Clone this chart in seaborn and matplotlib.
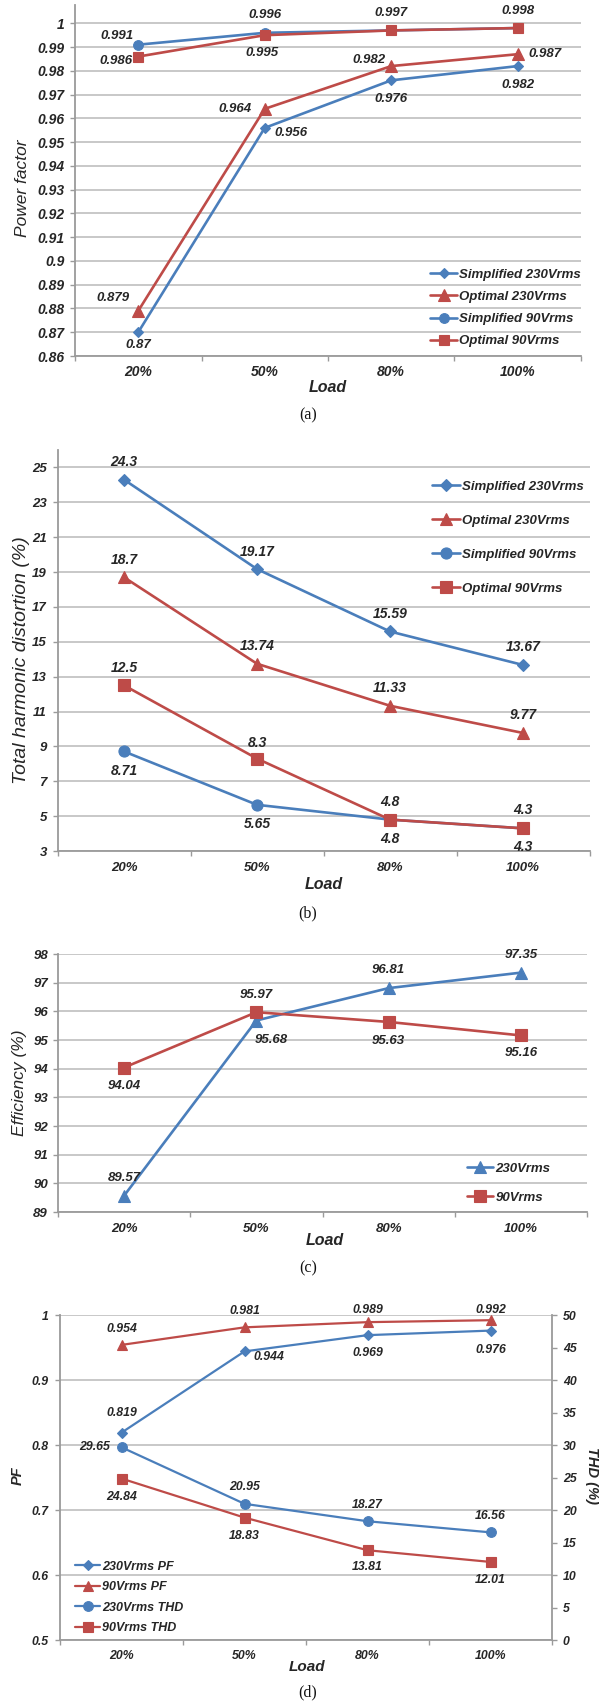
import numpy as np
import matplotlib
matplotlib.use("Agg")
import matplotlib.pyplot as plt
import seaborn as sns

# ---------------------------------------------------------------- data
loads = ["20%", "50%", "80%", "100%"]

# (a) power factor of the two controllers
pf_simplified_230 = [0.87, 0.956, 0.976, 0.982]
pf_optimal_230 = [0.879, 0.964, 0.982, 0.987]
pf_simplified_90 = [0.991, 0.996, 0.997, 0.998]
pf_optimal_90 = [0.986, 0.995, 0.997, 0.998]

# (b) total harmonic distortion (%)
thd_simplified_230 = [24.3, 19.17, 15.59, 13.67]
thd_optimal_230 = [18.7, 13.74, 11.33, 9.77]
thd_simplified_90 = [8.71, 5.65, 4.8, 4.3]
thd_optimal_90 = [12.5, 8.3, 4.8, 4.3]

# (c) efficiency (%)
eff_230 = [89.57, 95.68, 96.81, 97.35]
eff_90 = [94.04, 95.97, 95.63, 95.16]

# (d) PF (left axis) and THD (right axis)
pf_230 = [0.819, 0.944, 0.969, 0.976]
pf_90 = [0.954, 0.981, 0.989, 0.992]
thd_230 = [29.65, 20.95, 18.27, 16.56]
thd_90 = [24.84, 18.83, 13.81, 12.01]

a_yticks = [0.86, 0.87, 0.88, 0.89, 0.9, 0.91, 0.92, 0.93, 0.94, 0.95,
            0.96, 0.97, 0.98, 0.99, 1.0]
b_yticks = [3, 5, 7, 9, 11, 13, 15, 17, 19, 21, 23, 25]
c_yticks = [89, 90, 91, 92, 93, 94, 95, 96, 97, 98]
d_yticks = [0.5, 0.6, 0.7, 0.8, 0.9, 1.0]
d_thd_ticks = [0, 5, 10, 15, 20, 25, 30, 35, 40, 45, 50]

# ---------------------------------------------------------------- style
sns.set_theme(style="white")
plt.rcParams["font.family"] = ["Liberation Sans", "DejaVu Sans"]
plt.rcParams["font.style"] = "italic"
plt.rcParams["font.weight"] = "bold"

BLUE = "#4a7ebb"
RED = "#be4b48"
GRID = "#c4c4c4"
SPINE = "#9a9a9a"
TXT = "#262626"

W, H = 599, 1701
fig = plt.figure(figsize=(W / 100, H / 100), dpi=100)
fig.patch.set_facecolor("white")
x = np.arange(len(loads))


def fx(px):
    return px / W


def fy(py):
    return 1 - py / H


def make_axes(left, right, top, bottom):
    return fig.add_axes([fx(left), fy(bottom), (right - left) / W, (bottom - top) / H])


def style_axes(ax, yticks, ylim, tick_size, ypad, xpad):
    ax.set_xlim(-0.5, len(loads) - 0.5)
    ax.set_ylim(*ylim)
    ax.set_yticks(yticks)
    ax.set_yticklabels([f"{t:g}" for t in yticks])
    ax.set_xticks(x)
    ax.set_xticklabels(loads)
    ax.set_xticks(np.arange(len(loads) + 1) - 0.5, minor=True)
    ax.tick_params(axis="x", which="major", length=0, pad=xpad,
                   labelsize=tick_size, labelcolor=TXT)
    ax.tick_params(axis="x", which="minor", length=3.6, width=1.0,
                   color=SPINE, direction="out", bottom=True)
    ax.tick_params(axis="y", which="major", length=3.6, width=1.0,
                   color=SPINE, direction="out", left=True, pad=ypad,
                   labelsize=tick_size, labelcolor=TXT)
    ax.yaxis.grid(True, color=GRID, linewidth=1.3)
    ax.xaxis.grid(False)
    ax.set_axisbelow(True)
    for side in ("top", "right"):
        ax.spines[side].set_visible(False)
    for side in ("left", "bottom"):
        ax.spines[side].set_color(SPINE)
        ax.spines[side].set_linewidth(1.3)
    ax.set_facecolor("white")
    ax.set_xlabel("")
    ax.set_ylabel("")


def draw_series(ax, values, color, marker, ms, lw, label, offsets, fs):
    sns.lineplot(x=x, y=values, ax=ax, color=color, marker=marker,
                 markersize=ms, markeredgecolor=color, markeredgewidth=0.8,
                 linewidth=lw, label=label, legend=False, zorder=3)
    for xi, v, off in zip(x, values, offsets):
        if off is None:  # value label shared with the series drawn on top
            continue
        ax.annotate(f"{v:g}", (xi, v), xytext=off,
                    textcoords="offset pixels", ha="center", va="center",
                    fontsize=fs, color=TXT, fontstyle="italic",
                    fontweight="bold", zorder=4)


def place_legend(ax, handles, labels, left_px, center_px, fs, handlelength, spacing):
    leg = ax.legend(handles, labels, loc="center left",
                    bbox_to_anchor=(fx(left_px), fy(center_px)),
                    bbox_transform=fig.transFigure, frameon=False,
                    borderpad=0, borderaxespad=0, handlelength=handlelength,
                    handletextpad=0.15, labelspacing=spacing,
                    prop=dict(size=fs, style="italic", weight="bold"))
    for t in leg.get_texts():
        t.set_color(TXT)
    return leg


def axis_text(px, py, s, size, rotation=0, weight="bold", style="italic"):
    fig.text(fx(px), fy(py), s, ha="center", va="center", rotation=rotation,
             fontsize=size, fontweight=weight, fontstyle=style, color=TXT)


def caption(py, s):
    fig.text(fx(308), fy(py), s, ha="center", va="center", fontsize=11.5,
             family=["Liberation Serif", "DejaVu Serif"], fontstyle="normal",
             fontweight="normal", color="#111111")


# ---------------------------------------------------------------- (a)
ax_a = make_axes(75, 581, 5, 356)
draw_series(ax_a, pf_simplified_230, BLUE, "D", 5.5, 1.9, "Simplified 230Vrms",
            [(0, -13), (26, -5), (0, -19), (0, -19)], 9.5)
draw_series(ax_a, pf_optimal_230, RED, "^", 8.0, 1.9, "Optimal 230Vrms",
            [(-25, 13), (-30, 0), (-22, 6), (27, 0)], 9.5)
draw_series(ax_a, pf_simplified_90, BLUE, "o", 7.0, 1.9, "Simplified 90Vrms",
            [(-21, 9), (0, 18), None, None], 9.5)
draw_series(ax_a, pf_optimal_90, RED, "s", 7.5, 1.9, "Optimal 90Vrms",
            [(-22, -4), (-3, -18), (0, 17), (0, 17)], 9.5)
style_axes(ax_a, a_yticks, (0.86, 1.0077), 10, 3.6, 6.5)
h, l = ax_a.get_legend_handles_labels()
place_legend(ax_a, h, l, 430, 308, 9.5, 2.05, 0.75)
axis_text(23, 188, "Power factor", 12.5, rotation=90, weight="normal")
axis_text(328, 387, "Load", 11.5)
caption(415, "(a)")

# ---------------------------------------------------------------- (b)
ax_b = make_axes(57.5, 589.5, 450, 851)
draw_series(ax_b, thd_simplified_230, BLUE, "D", 6.0, 1.9, "Simplified 230Vrms",
            [(0, 18), (0, 17), (0, 17), (0, 18)], 10)
draw_series(ax_b, thd_optimal_230, RED, "^", 8.5, 1.9, "Optimal 230Vrms",
            [(0, 17), (0, 18), (0, 18), (0, 18)], 10)
draw_series(ax_b, thd_simplified_90, BLUE, "o", 8.0, 1.9, "Simplified 90Vrms",
            [(0, -20), (0, -19), (0, -19), (0, -19)], 10)
draw_series(ax_b, thd_optimal_90, RED, "s", 8.0, 1.9, "Optimal 90Vrms",
            [(0, 17), (0, 16), (0, 18), (0, 18)], 10)
style_axes(ax_b, b_yticks, (3, 26.0), 9.5, 4.0, 8.0)
h, l = ax_b.get_legend_handles_labels()
place_legend(ax_b, h, l, 432, 537.5, 9.5, 2.1, 1.65)
axis_text(22, 660, "Total harmonic distortion (%)", 14, rotation=90, weight="normal")
axis_text(324, 884, "Load", 11.5)
caption(913, "(b)")

# ---------------------------------------------------------------- (c)
ax_c = make_axes(58, 587, 954, 1212)
draw_series(ax_c, eff_230, BLUE, "^", 8.5, 1.9, "230Vrms",
            [(0, 18), (15, -19), (0, 18), (0, 18)], 9.5)
draw_series(ax_c, eff_90, RED, "s", 8.0, 1.9, "90Vrms",
            [(0, -18), (0, 17), (0, -19), (0, -18)], 9.5)
style_axes(ax_c, c_yticks, (89, 98), 9.5, 3.6, 8.0)
h, l = ax_c.get_legend_handles_labels()
place_legend(ax_c, h, l, 467, 1183, 9.5, 2.0, 1.27)
axis_text(20, 1083, "Efficiency (%)", 12.5, rotation=90, weight="normal")
axis_text(325, 1240, "Load", 11.5)
caption(1268, "(c)")

# ---------------------------------------------------------------- (d)
ax_d = make_axes(60, 552, 1315, 1640)
draw_series(ax_d, pf_230, BLUE, "D", 5.5, 1.6, "230Vrms PF",
            [(0, 20), (24, -6), (0, -18), (0, -19)], 8.8)
draw_series(ax_d, pf_90, RED, "^", 7.5, 1.6, "90Vrms PF",
            [(0, 16), (0, 16), (0, 12), (0, 10)], 8.8)
style_axes(ax_d, d_yticks, (0.5, 1.0), 8.8, 4.3, 7.5)
ax_d.yaxis.grid(True, color=GRID, linewidth=1.3)

ax_t = ax_d.twinx()
draw_series(ax_t, thd_230, BLUE, "o", 7.0, 1.6, "230Vrms THD",
            [(-27, 0), (0, 17), (0, 16), (0, 16)], 8.8)
draw_series(ax_t, thd_90, RED, "s", 7.0, 1.6, "90Vrms THD",
            [(0, -18), (0, -18), (0, -17), (0, -18)], 8.8)
ax_t.set_ylim(0, 50)
ax_t.set_yticks(d_thd_ticks)
ax_t.set_yticklabels([f"{t:g}" for t in d_thd_ticks])
ax_t.tick_params(axis="y", length=3.6, width=1.0, color=SPINE, direction="out",
                 right=True, pad=4.3, labelsize=8.8, labelcolor=TXT)
ax_t.grid(False)
ax_t.set_ylabel("")
for side in ("top", "left", "bottom"):
    ax_t.spines[side].set_visible(False)
ax_t.spines["right"].set_color(SPINE)
ax_t.spines["right"].set_linewidth(1.3)

h1, l1 = ax_d.get_legend_handles_labels()
h2, l2 = ax_t.get_legend_handles_labels()
place_legend(ax_t, h1 + h2, l1 + l2, 75, 1597.5, 9.0, 2.0, 0.68)
axis_text(18, 1476, "PF", 10.5, rotation=90)
axis_text(592, 1475, "THD (%)", 10.5, rotation=270)
axis_text(307, 1667, "Load", 11)
caption(1692, "(d)")

fig.savefig("out.png", dpi=100, facecolor="white")
